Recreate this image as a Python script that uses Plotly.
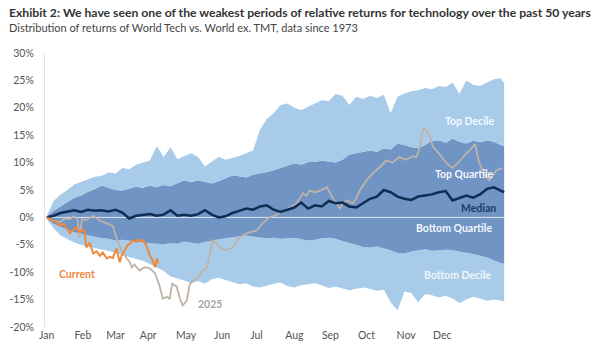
import plotly.graph_objects as go

# ---- data (x = trading-day index from start of year) ----
days = list(range(0, 265, 4)) + [266]

p90 = [0.3, 3.0, 4.2, 5.0, 6.0, 6.5, 7.0, 7.4, 7.6, 8.2, 8.0, 9.0, 8.8, 9.6, 10.0, 10.4,
       13.0, 11.0, 12.8, 10.6, 11.2, 11.7, 11.0, 9.3, 10.2, 11.0, 10.5, 10.8, 11.2, 11.7,
       12.2, 16.0, 18.0, 19.0, 20.5, 20.8, 20.0, 19.6, 20.2, 20.8, 21.4, 21.2, 22.5, 22.2,
       20.5, 22.0, 21.6, 22.2, 21.8, 22.4, 19.0, 22.0, 22.6, 23.0, 23.2, 23.6, 23.4, 24.0,
       23.8, 24.6, 22.5, 25.0, 24.2, 24.0, 24.6, 25.2, 25.4, 24.5]

p75 = [0.2, 1.2, 2.0, 2.8, 3.6, 4.0, 4.7, 5.2, 5.8, 5.4, 5.0, 4.9, 5.3, 5.6, 5.4, 5.8,
       5.5, 5.9, 5.7, 6.2, 6.8, 6.4, 6.8, 6.5, 6.2, 6.6, 7.2, 7.7, 7.5, 7.3, 7.8, 8.0,
       8.3, 8.6, 9.0, 9.4, 9.9, 9.6, 10.1, 10.1, 10.4, 10.2, 10.0, 10.5, 11.5, 11.7, 12.0,
       12.2, 12.0, 12.6, 12.4, 13.5, 13.2, 12.8, 12.6, 13.2, 14.0, 14.1, 13.6, 14.4, 13.8,
       13.5, 14.0, 13.7, 14.1, 13.8, 13.2, 13.0]

p25 = [-0.2, -1.2, -1.7, -2.2, -2.7, -3.0, -3.3, -3.5, -3.8, -3.9, -4.2, -4.1, -4.3, -4.5,
       -4.6, -4.7, -4.8, -4.9, -4.7, -4.8, -4.4, -4.6, -4.8, -4.5, -4.2, -4.0, -3.8, -3.6,
       -3.4, -3.3, -3.5, -3.6, -3.8, -3.7, -3.9, -3.8, -3.7, -4.0, -4.2, -4.1, -3.8, -3.7,
       -3.9, -4.3, -4.6, -5.0, -5.4, -5.5, -5.3, -5.6, -6.0, -6.5, -6.6, -6.2, -6.0, -5.8,
       -6.1, -6.0, -5.9, -6.0, -6.2, -6.4, -6.7, -7.0, -7.3, -7.8, -8.3, -8.4]

p10 = [-0.3, -2.0, -3.3, -4.0, -4.6, -5.0, -5.4, -5.6, -5.9, -6.1, -6.4, -6.9, -7.2, -7.6,
       -7.9, -8.5, -9.2, -9.8, -10.8, -11.1, -11.5, -12.0, -11.6, -12.1, -11.3, -11.0,
       -11.4, -11.8, -12.2, -12.0, -12.6, -12.8, -12.4, -12.1, -11.9, -12.5, -12.8, -12.4,
       -12.2, -12.0, -12.4, -12.9, -12.6, -13.0, -13.3, -13.0, -12.8, -13.0, -13.4, -13.2,
       -15.5, -17.0, -13.5, -13.8, -15.5, -14.0, -14.2, -14.6, -14.3, -14.8, -15.6, -15.0,
       -14.5, -14.8, -15.2, -15.0, -15.2, -15.3]

median = [0.0, 0.3, 0.8, 1.0, 1.3, 1.0, 1.4, 1.2, 1.3, 1.1, 1.4, 0.9, -0.2, 0.3, 0.4, 0.6,
          0.3, 0.5, 1.3, 0.3, 0.5, 0.3, 0.6, 1.3, 0.5, 0.0, 0.2, 0.8, 1.2, 1.6, 1.4, 2.0,
          2.2, 1.4, 1.0, 1.4, 1.8, 2.7, 1.6, 2.2, 2.0, 3.0, 2.6, 2.7, 2.0, 1.8, 2.6, 3.4,
          3.8, 5.0, 4.6, 3.8, 3.4, 3.2, 3.8, 4.0, 4.2, 4.6, 4.8, 3.1, 3.6, 4.0, 3.6, 4.2,
          5.2, 5.5, 4.9, 4.6]

cur_days = [0, 2, 3.5, 6, 7.5, 9, 10.5, 12, 13.5, 15, 17.5, 19, 21, 22, 23, 25, 27, 29, 31,
            32.5, 35, 36.5, 38.5, 40.5, 42.5, 43.5, 45.5, 47, 49, 50, 52, 53, 54.5, 56, 58,
            60, 61.5, 63, 64, 65]
current = [0, -0.3, -0.5, -1.0, -1.5, -1.2, -1.4, -2.2, -2.9, -2.4, -1.8, -2.7, -2.2, -2.4,
           -5.5, -4.6, -6.6, -6.2, -7.0, -6.4, -7.5, -7.2, -7.4, -5.7, -8.2, -7.0, -6.0,
           -5.1, -4.6, -4.2, -4.5, -4.0, -4.3, -4.2, -5.1, -7.0, -7.8, -9.1, -7.5, -8.4]

y25_days = [0, 3.5, 7.5, 10.5, 13.5, 16, 18, 19, 20.5, 23, 27, 31, 35, 38.5, 40.5, 43.5,
            46.5, 48, 49.5, 51, 54, 57, 60, 63, 65.5, 67.5, 70, 71.5, 73, 75.5, 77.5, 79,
            81.5, 83, 85, 88, 90.5, 93, 95, 96.5, 99, 100.5, 104.5, 108, 110.5, 112, 116,
            119, 122, 125.5, 129.5, 132.5, 135.5, 138.5, 141.5, 145.5, 149, 151, 153, 156,
            159, 163, 166, 168.5, 170.5, 172, 174.5, 178, 180, 182, 186, 189.5, 193.5, 197.5,
            201, 205, 209, 213, 215, 217, 219, 221, 223, 224.5, 228.5, 232.5, 236, 240, 244,
            247, 249, 251.5, 254.5, 257.5, 261.5, 265]
y2025 = [0, -0.6, -0.9, -0.2, -0.3, 0.2, -0.4, -3.7, -0.3, -0.5, 0.3, -0.6, -1.1, -1.6,
         -3.7, -6.0, -7.5, -8.0, -9.1, -8.6, -9.7, -9.1, -9.3, -10.2, -12.4, -14.8, -14.5,
         -14.9, -12.1, -12.6, -14.8, -16.1, -15.2, -12.4, -11.5, -11.0, -9.7, -9.3, -6.6,
         -4.2, -4.8, -5.5, -6.0, -5.5, -4.4, -3.7, -2.9, -2.6, -2.4, -1.1, 0.0, 0.3, 0.7,
         1.2, 1.8, 2.6, 4.4, 4.0, 4.9, 4.6, 4.9, 5.5, 3.7, 2.6, 1.6, 2.4, 3.1, 2.6, 3.5,
         4.9, 6.8, 8.0, 9.1, 10.4, 10.0, 11.0, 10.5, 11.2, 11.0, 12.8, 16.2, 15.8, 14.6,
         13.0, 11.5, 9.9, 9.0, 10.2, 11.7, 12.6, 13.4, 10.0, 8.0, 6.8, 8.6, 9.0]

month_labels = ["Jan", "Feb", "Mar", "Apr", "May", "Jun", "Jul", "Aug", "Sep", "Oct", "Nov", "Dec"]
month_pos = [0, 21, 40, 59, 81, 102, 122, 144, 165, 186, 209, 230]
y_ticks = [30, 25, 20, 15, 10, 5, 0, -5, -10, -15, -20]

TITLE = "Exhibit 2: We have seen one of the weakest periods of relative returns for technology over the past 50 years"
SUBTITLE = "Distribution of returns of World Tech vs. World ex. TMT, data since 1973"

LIGHT = "#a8cbe9"
DARK = "#7094c4"
NAVY = "#0f2c54"
ORANGE = "#f0883a"
GREY = "#bdb3a8"
FONT = "Lato"

fig = go.Figure()
fig.add_trace(go.Scatter(x=days, y=p10, mode="lines", line=dict(width=0, color=LIGHT),
                         hoverinfo="skip", showlegend=False))
fig.add_trace(go.Scatter(x=days, y=p25, mode="lines", line=dict(width=0, color=LIGHT),
                         fill="tonexty", fillcolor=LIGHT, hoverinfo="skip", showlegend=False))
fig.add_trace(go.Scatter(x=days, y=p75, mode="lines", line=dict(width=0, color=DARK),
                         fill="tonexty", fillcolor=DARK, hoverinfo="skip", showlegend=False))
fig.add_trace(go.Scatter(x=days, y=p90, mode="lines", line=dict(width=0, color=LIGHT),
                         fill="tonexty", fillcolor=LIGHT, hoverinfo="skip", showlegend=False))
fig.add_trace(go.Scatter(x=[days[0], days[-1]], y=[0, 0], mode="lines",
                         line=dict(width=1, color="#dfe6ef"), hoverinfo="skip", showlegend=False))
fig.add_trace(go.Scatter(x=y25_days, y=y2025, mode="lines", line=dict(width=1.8, color=GREY),
                         showlegend=False))
fig.add_trace(go.Scatter(x=days, y=median, mode="lines", line=dict(width=2.5, color=NAVY),
                         showlegend=False))
fig.add_trace(go.Scatter(x=cur_days, y=current, mode="lines", line=dict(width=2, color=ORANGE),
                         showlegend=False))

def lab(text, x, y, color, size=10.5):
    fig.add_annotation(x=x, y=y, xref="x", yref="y", text="<b>" + text + "</b>",
                       showarrow=False, font=dict(family=FONT, size=size, color=color))

lab("Top Decile", 246, 17.6, "rgba(255,255,255,0.9)")
lab("Top Quartile", 243, 7.9, "rgba(255,255,255,0.95)")
lab("Median", 251, 1.8, "#1e3a66")
lab("Bottom Quartile", 237, -2.0, "rgba(255,255,255,0.95)")
lab("Bottom Decile", 239, -10.6, "rgba(255,255,255,0.85)")
lab("2025", 95, -15.8, "#a6a6a6")
lab("Current", 17.5, -10.4, ORANGE)

# title / subtitle as paper annotations (plot area: top 53px, height 274px)
fig.add_annotation(x=-38 / 460, y=(327 - 12) / 274, xref="paper", yref="paper",
                   xanchor="left", yanchor="middle", text="<b>" + TITLE + "</b>",
                   showarrow=False, font=dict(family=FONT, size=12.2, color="#333333"))
fig.add_annotation(x=-38 / 460, y=(327 - 28) / 274, xref="paper", yref="paper",
                   xanchor="left", yanchor="middle", text=SUBTITLE,
                   showarrow=False, font=dict(family=FONT, size=11, color="#444444"))

fig.update_layout(
    width=596, height=345,
    margin=dict(l=45, r=91, t=53, b=18, autoexpand=False),
    paper_bgcolor="white", plot_bgcolor="white",
    font=dict(family=FONT, size=10.5, color="#555555"),
    xaxis=dict(range=[-1, 266.5], tickvals=month_pos, ticktext=month_labels,
               showgrid=False, zeroline=False, showline=False, ticks="", automargin=False,
               tickfont=dict(size=10.5, color="#555555")),
    yaxis=dict(range=[-20, 30], tickvals=y_ticks, ticktext=[f"{v}%" for v in y_ticks],
               showgrid=False, zeroline=False, showline=True, linecolor="#e2e2e2",
               ticks="", ticklabelstandoff=8, automargin=False,
               tickfont=dict(size=10.5, color="#555555")),
)

fig.write_html("out.html")
